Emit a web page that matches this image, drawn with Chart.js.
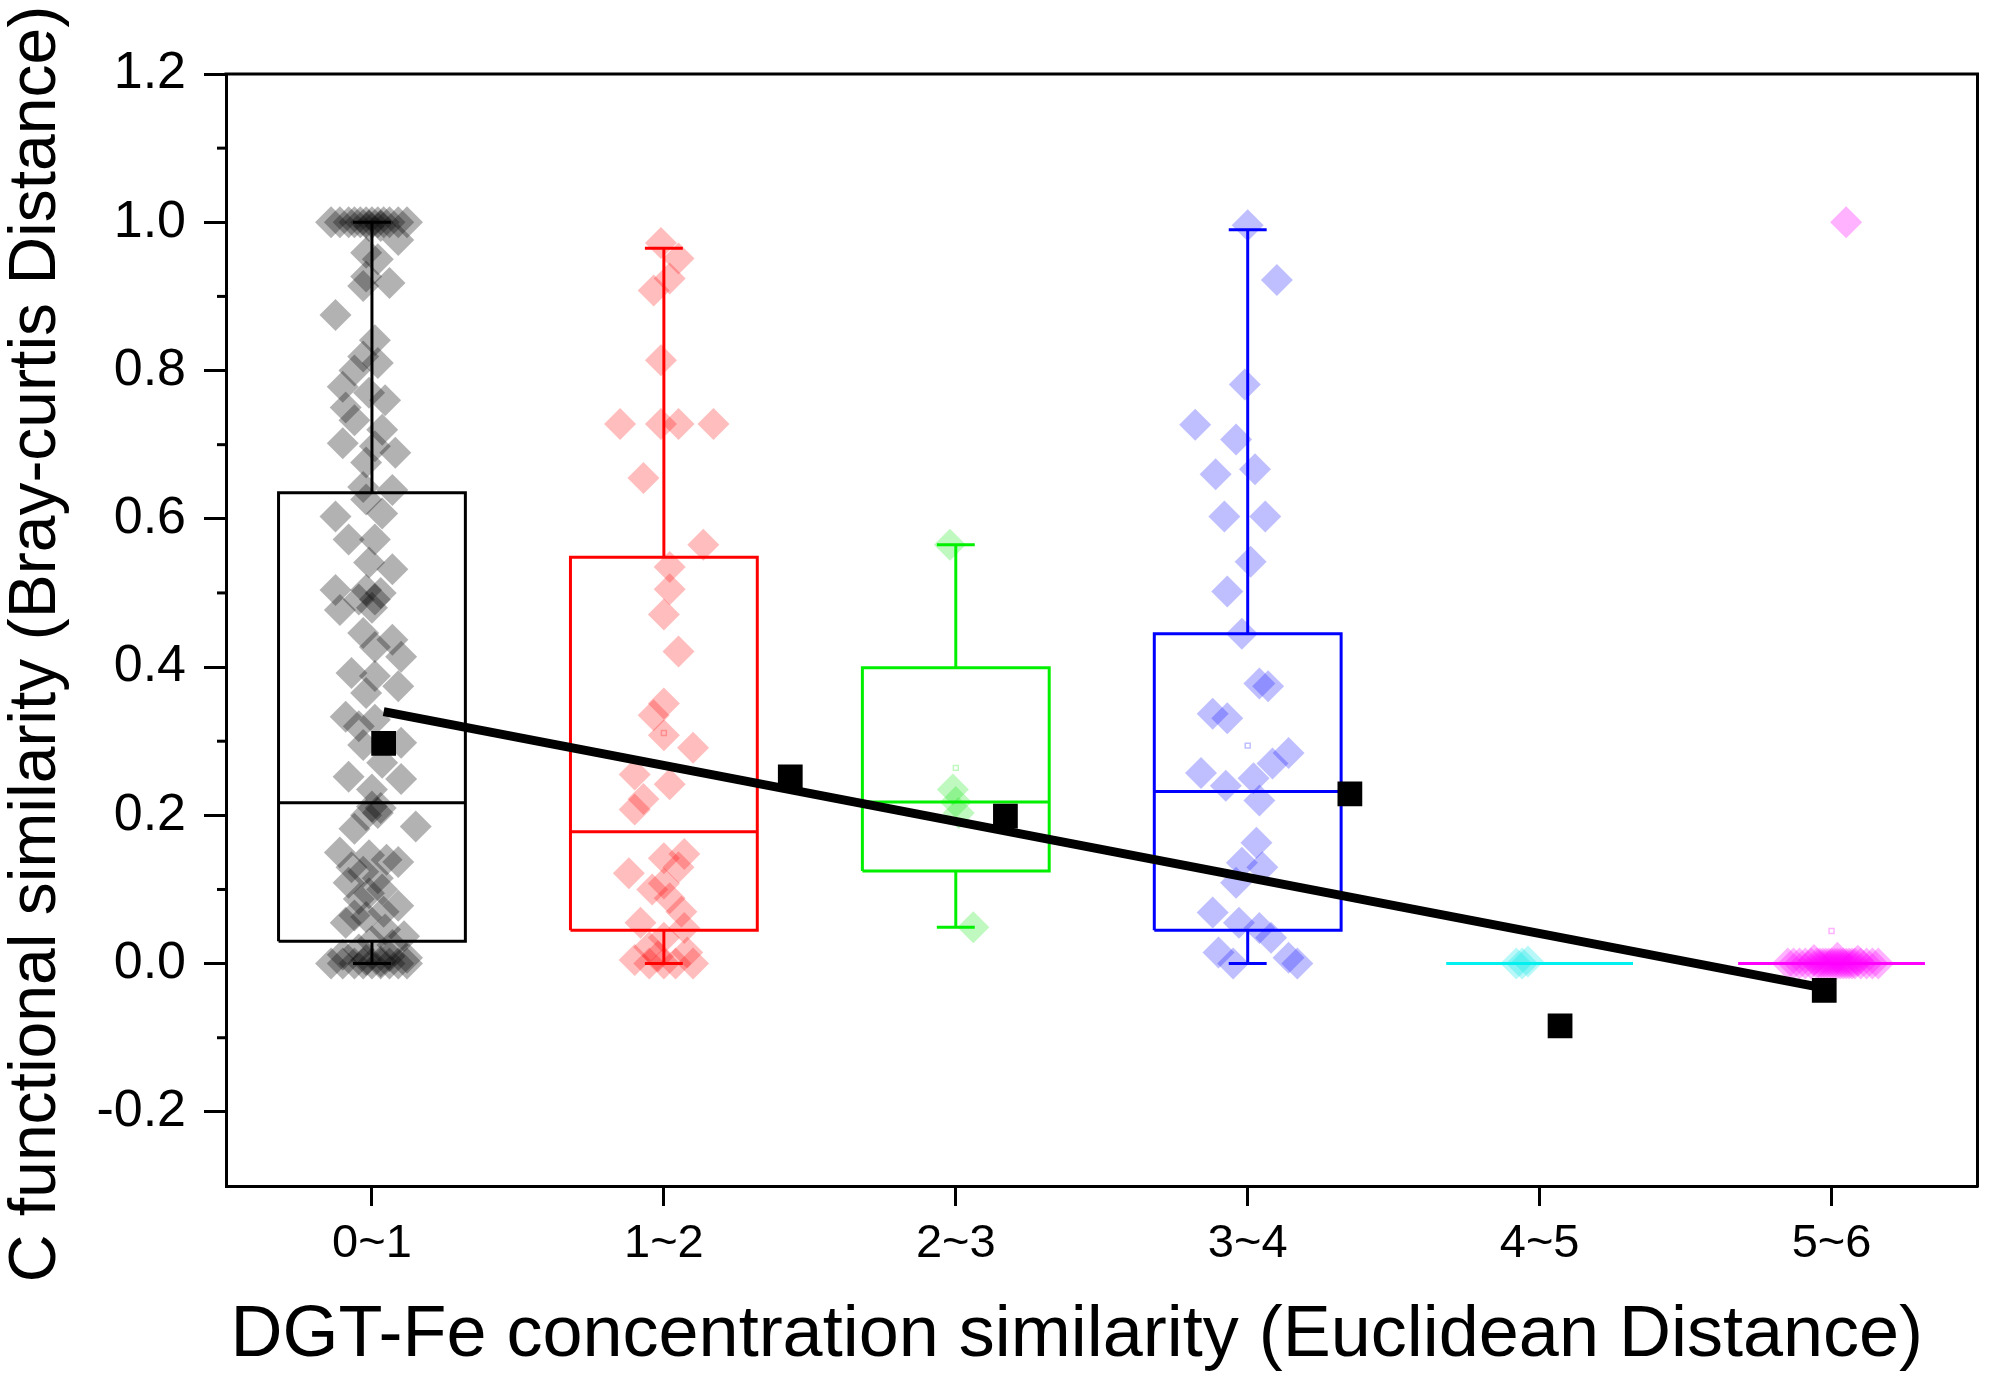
<!DOCTYPE html>
<html><head><meta charset="utf-8">
<script src="https://cdn.jsdelivr.net/npm/chart.js@4/dist/chart.umd.min.js"></script>
<style>html,body{margin:0;padding:0;background:#fff;}#wrap{width:1995px;height:1387px;}</style>
</head><body><div id="wrap"><canvas id="c" width="1995" height="1387"></canvas></div>
<script>
// ---------- data ----------
const categories = ['0~1','1~2','2~3','3~4','4~5','5~6'];
const yTickValues = [-0.2,0,0.2,0.4,0.6,0.8,1.0,1.2];
const yMinorValues = [-0.1,0.1,0.3,0.5,0.7,0.9,1.1];
const xTitle = 'DGT-Fe concentration similarity (Euclidean Distance)';
const yTitle = 'C functional similarity (Bray-curtis Distance)';

// box statistics per category
const boxLow  = [0,     0,     0.049, 0,     0, 0];
const boxQ1   = [0.030, 0.045, 0.125, 0.045, 0, 0];
const boxMed  = [0.217, 0.178, 0.218, 0.232, 0, 0];
const boxQ3   = [0.635, 0.548, 0.399, 0.445, 0, 0];
const boxHigh = [1.0,   0.965, 0.565, 0.990, 0, 0];
const boxMean = [null,  0.311, 0.264, 0.294, null, 0.044];

// raw points (value, horizontal jitter)
const pts01Y = [1,1,1,1,1,1,1,1,1,1,1,1,0.995,0.995,
0.976,0.959,0.95,0.927,0.918,0.914,0.875,0.841,0.819,0.81,0.80,0.778,0.77,0.76,0.75,0.733,0.72,0.702,0.698,0.689,0.676,0.643,0.639,0.626,0.607,0.603,0.572,0.572,0.541,0.532,0.504,0.504,0.5,0.491,0.491,0.48,0.477,0.446,0.437,0.427,0.414,0.392,0.388,0.374,0.365,0.333,0.329,0.32,0.298,0.295,0.271,0.252,0.249,0.235,0.212,0.21,0.203,0.2,0.185,0.182,0.15,0.146,0.14,0.137,0.13,0.124,0.115,0.109,0.1,0.095,0.087,0.078,0.07,0.065,0.063,0.055,0.046,0.037,0.03,0.025,0.019,0.012,0.01,0.008,0.005,0.003,0,0,0,0,0,0,0,0,0];
const pts01Dx = [-0.14,-0.11,-0.08,-0.06,-0.04,-0.02,0,0.02,0.04,0.06,0.09,0.12,-0.01,0.03,
0.09,-0.02,0.02,-0.02,0.06,-0.03,-0.125,0.01,-0.03,0.02,-0.06,-0.1,-0.01,0.045,-0.09,-0.06,0.035,-0.1,0.01,0.08,-0.02,-0.03,0.07,-0.02,0.035,-0.125,-0.08,0.01,-0.01,0.07,-0.125,-0.02,0.03,-0.045,0.01,0,-0.11,-0.03,0.07,0.01,0.1,-0.07,0.01,0.09,-0.02,-0.09,0.01,-0.045,0.1,-0.03,0.035,-0.08,0.1,0,0,0.03,0.02,-0.02,0.15,-0.06,-0.11,-0.01,0.05,0.09,-0.07,-0.03,0.02,-0.08,0.035,-0.01,-0.045,0.09,0.04,-0.06,-0.02,-0.09,0.045,0.11,0,0.07,-0.045,-0.1,0.06,0.12,-0.02,0.03,-0.14,-0.1,-0.06,-0.03,0,0.03,0.06,0.09,0.12];

const pts12Y = [0.972,0.951,0.924,0.908,0.814,0.728,0.728,0.728,0.728,0.655,0.565,0.535,0.505,0.471,0.421,0.351,0.335,0.308,0.291,0.255,0.242,0.222,0.208,0.148,0.142,0.13,0.122,0.108,0.1,0.088,0.07,0.055,0.048,0.035,0.022,0.015,0.01,0.005,0,0,0,0];
const pts12Dx = [-0.01,0.05,0.02,-0.035,-0.01,-0.15,-0.01,0.05,0.17,-0.07,0.135,0.02,0.02,0,0.05,0,-0.035,0,0.1,-0.1,0.02,-0.07,-0.1,0.07,0,0.05,-0.12,0,-0.04,0.02,0.06,-0.08,0.07,0,-0.05,0.08,-0.02,-0.1,-0.05,0,0.04,0.1];

const pts23Y = [0.565,0.235,0.218,0.203,0.049];
const pts23Dx = [-0.02,-0.01,0,0.01,0.06];

const pts34Y = [0.996,0.922,0.781,0.727,0.707,0.667,0.660,0.603,0.603,0.542,0.502,0.445,0.378,0.374,0.337,0.331,0.284,0.270,0.257,0.250,0.240,0.220,0.163,0.136,0.130,0.109,0.069,0.055,0.048,0.035,0.015,0.008,0,0];
const pts34Dx = [0,0.1,-0.01,-0.18,-0.04,0.025,-0.11,-0.08,0.06,0.01,-0.07,-0.02,0.04,0.07,-0.12,-0.07,0.14,0.085,-0.16,0.02,-0.075,0.04,0.03,-0.02,0.05,-0.04,-0.12,-0.03,0.04,0.08,-0.1,0.14,-0.05,0.17];

const pts45Y = [0,0,0.003];
const pts45Dx = [-0.08,-0.06,-0.04];

const pts56Y = [1.0,0,0,0,0,0,0,0,0,0,0,0,0,0,0,0,0,0,0,0,0,0,0,0,0.005,0.008,0.004];
const pts56Dx = [0.05,-0.15,-0.13,-0.11,-0.09,-0.07,-0.05,-0.04,-0.03,-0.02,-0.01,0,0.01,0.02,0.03,0.04,0.05,0.06,0.07,0.08,0.1,0.12,0.14,0.16,-0.06,0.02,0.09];

// regression (mean points and fitted line)
const fitPointX = [0.04,1.433,2.17,3.35,4.07,4.975];
const fitPointY = [0.297,0.252,0.199,0.229,-0.084,-0.036];
const fitLineX = [0.04,4.975];
const fitLineY = [0.34,-0.033];

// ---------- styles ----------
const lineColors = ['#000000','#ff0000','#00f000','#0000ff','#00f0f0','#ff00ff'];
const fillColors = ['rgba(0,0,0,0.3)','rgba(255,0,0,0.26)','rgba(0,230,0,0.25)','rgba(0,0,255,0.25)','rgba(0,230,230,0.28)','rgba(255,0,255,0.3)'];
const pointGroups = [[pts01Y,pts01Dx],[pts12Y,pts12Dx],[pts23Y,pts23Dx],[pts34Y,pts34Dx],[pts45Y,pts45Dx],[pts56Y,pts56Dx]];
const BOX_HALF = 0.32, CAP_HALF = 0.065;
const FONT = "'Liberation Sans', Arial, sans-serif";

Chart.defaults.font.family = FONT;
Chart.defaults.color = '#000';

const datasets = [];
datasets.push({data: fitPointX.map((x,i)=>({x, y: fitPointY[i]})), showLine:false,
  pointStyle:'rect', pointRadius:17.5, backgroundColor:'#000', borderWidth:0});
datasets.push({data: fitLineX.map((x,i)=>({x, y: fitLineY[i]})), showLine:true,
  borderColor:'#000', borderWidth:9, pointRadius:0});

categories.forEach((c,i)=>{
  const w = BOX_HALF, cp = CAP_HALF;
  const gap = {x:i, y:null};
  const d = [
    {x:i-w,y:boxQ1[i]},{x:i+w,y:boxQ1[i]},{x:i+w,y:boxQ3[i]},{x:i-w,y:boxQ3[i]},{x:i-w,y:boxQ1[i]}, gap,
    {x:i-w,y:boxMed[i]},{x:i+w,y:boxMed[i]}, gap,
    {x:i,y:boxQ3[i]},{x:i,y:boxHigh[i]}, gap,
    {x:i-cp,y:boxHigh[i]},{x:i+cp,y:boxHigh[i]}, gap,
    {x:i,y:boxQ1[i]},{x:i,y:boxLow[i]}, gap,
    {x:i-cp,y:boxLow[i]},{x:i+cp,y:boxLow[i]}
  ];
  datasets.push({data:d, showLine:true, spanGaps:false, borderColor:lineColors[i], borderWidth:3, pointRadius:0});
  if (boxMean[i] !== null) {
    datasets.push({data:[{x:i, y:boxMean[i]}], showLine:false, pointStyle:'rect', pointRadius:3.5,
      backgroundColor:'rgba(0,0,0,0)', borderColor:fillColors[i], borderWidth:1.5});
  }
});
pointGroups.forEach(([ys,dxs],i)=>{
  datasets.push({data: ys.map((y,k)=>({x:i+dxs[k], y})), showLine:false, pointStyle:'rectRot',
    pointRadius:16, backgroundColor:fillColors[i], borderWidth:0});
});

const framePlugin = {
  id:'frame',
  afterDraw(chart){
    const {ctx, chartArea:a} = chart; const ys = chart.scales.y;
    ctx.save(); ctx.strokeStyle='#000'; ctx.lineWidth=3;
    yMinorValues.forEach(v=>{ const p = ys.getPixelForValue(v);
      ctx.beginPath(); ctx.moveTo(a.left-9,p); ctx.lineTo(a.left,p); ctx.stroke(); });
    ctx.beginPath(); ctx.moveTo(a.left-1.5,a.top); ctx.lineTo(a.right,a.top); ctx.lineTo(a.right,a.bottom+1.5); ctx.stroke();
    // axis titles
    ctx.fillStyle = '#000'; ctx.textAlign = 'center'; ctx.textBaseline = 'middle';
    ctx.font = '72px ' + FONT;
    ctx.fillText(xTitle, (a.left + a.right)/2 - 25, 1336);
    ctx.translate(37, (a.top + a.bottom)/2 + 14);
    ctx.rotate(-Math.PI/2);
    ctx.font = '66px ' + FONT;
    ctx.fillText(yTitle, 0, 0);
    ctx.restore();
  }
};

new Chart(document.getElementById('c'), {
  type:'scatter',
  data:{datasets},
  options:{
    responsive:false, animation:false, devicePixelRatio:1,
    layout:{padding:{top:74,right:8,bottom:0,left:0}},
    plugins:{legend:{display:false}, tooltip:{enabled:false}},
    scales:{
      x:{type:'linear', min:-0.5, max:5.5,
        afterBuildTicks:s=>{ s.ticks = categories.map((c,i)=>({value:i})); },
        afterFit:s=>{ s.height = 201; },
        ticks:{callback:v=>categories[v], font:{size:47}, padding:10, maxRotation:0, autoSkip:false, color:'#000'},
        grid:{drawOnChartArea:false, drawTicks:true, tickLength:20, tickWidth:3, tickColor:'#000'},
        border:{display:true, color:'#000', width:3},
        title:{display:false}
      },
      y:{type:'linear', min:-0.3, max:1.2,
        afterBuildTicks:s=>{ s.ticks = yTickValues.map(v=>({value:v})); },
        afterFit:s=>{ s.width = 226; },
        ticks:{callback:v=>Number(v).toFixed(1), font:{size:52}, padding:18, color:'#000'},
        grid:{drawOnChartArea:false, drawTicks:true, tickLength:22, tickWidth:3, tickColor:'#000'},
        border:{display:true, color:'#000', width:3},
        title:{display:false}
      }
    }
  },
  plugins:[framePlugin]
});
</script></body></html>
